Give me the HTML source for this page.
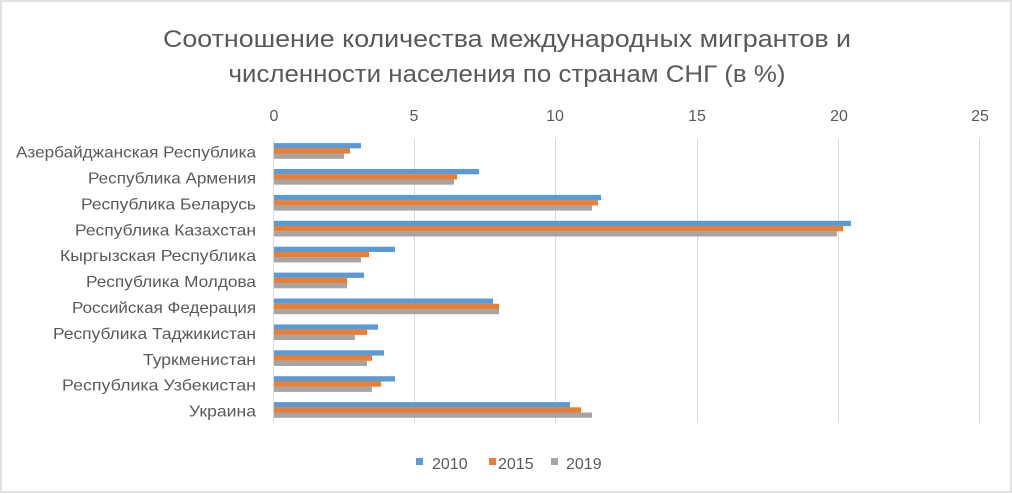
<!DOCTYPE html>
<html><head><meta charset="utf-8"><style>
body{margin:0;background:#fff}
svg{display:block}
text{font-family:"Liberation Sans",sans-serif;fill:#595959}
</style></head><body>
<svg width="1012" height="494" viewBox="0 0 1012 494">
<rect x="1" y="1" width="1010" height="491" fill="#fff" stroke="#d9d9d9" stroke-width="1.5"/>
<text x="507" y="47" font-size="24" text-anchor="middle" textLength="688" lengthAdjust="spacingAndGlyphs">Соотношение количества международных мигрантов и</text>
<text x="507" y="82" font-size="24" text-anchor="middle" textLength="557" lengthAdjust="spacingAndGlyphs">численности населения по странам СНГ (в %)</text>
<g font-size="16" text-anchor="middle">
<text x="274" y="121">0</text><text x="414" y="121">5</text><text x="555" y="121">10</text>
<text x="697" y="121">15</text><text x="839" y="121">20</text><text x="980" y="121">25</text>
</g>
<g stroke="#d9d9d9" stroke-width="1">
<line x1="414.5" y1="139" x2="414.5" y2="423"/><line x1="555.5" y1="139" x2="555.5" y2="423"/>
<line x1="697.5" y1="139" x2="697.5" y2="423"/><line x1="838.5" y1="139" x2="838.5" y2="423"/>
<line x1="979.5" y1="139" x2="979.5" y2="423"/><line x1="273.5" y1="139" x2="273.5" y2="423"/>
</g>
<g fill="#5b9bd5">
<rect x="274" y="143.1" width="87" height="5.3"/>
<rect x="274" y="169" width="205" height="5.3"/>
<rect x="274" y="194.9" width="327" height="5.3"/>
<rect x="274" y="220.8" width="577" height="5.3"/>
<rect x="274" y="246.7" width="121" height="5.3"/>
<rect x="274" y="272.6" width="90" height="5.3"/>
<rect x="274" y="298.5" width="219" height="5.3"/>
<rect x="274" y="324.4" width="104" height="5.3"/>
<rect x="274" y="350.3" width="110" height="5.3"/>
<rect x="274" y="376.2" width="121" height="5.3"/>
<rect x="274" y="402.1" width="296" height="5.3"/>
</g>
<g fill="#ed7d31">
<rect x="274" y="148.3" width="76" height="5.3"/>
<rect x="274" y="174.2" width="183" height="5.3"/>
<rect x="274" y="200.1" width="324" height="5.3"/>
<rect x="274" y="226" width="569" height="5.3"/>
<rect x="274" y="251.9" width="95" height="5.3"/>
<rect x="274" y="277.8" width="73" height="5.3"/>
<rect x="274" y="303.7" width="225" height="5.3"/>
<rect x="274" y="329.6" width="93" height="5.3"/>
<rect x="274" y="355.5" width="98" height="5.3"/>
<rect x="274" y="381.4" width="107" height="5.3"/>
<rect x="274" y="407.3" width="307" height="5.3"/>
</g>
<g fill="#a5a5a5">
<rect x="274" y="153.5" width="70" height="5.3"/>
<rect x="274" y="179.4" width="180" height="5.3"/>
<rect x="274" y="205.3" width="318" height="5.3"/>
<rect x="274" y="231.2" width="563" height="5.3"/>
<rect x="274" y="257.1" width="87" height="5.3"/>
<rect x="274" y="283" width="73" height="5.3"/>
<rect x="274" y="308.9" width="225" height="5.3"/>
<rect x="274" y="334.8" width="81" height="5.3"/>
<rect x="274" y="360.7" width="93" height="5.3"/>
<rect x="274" y="386.6" width="98" height="5.3"/>
<rect x="274" y="412.5" width="318" height="5.3"/>
</g>
<g font-size="16" text-anchor="end">
<text x="256" y="157.6" textLength="240" lengthAdjust="spacingAndGlyphs">Азербайджанская Республика</text>
<text x="256" y="183.5" textLength="168" lengthAdjust="spacingAndGlyphs">Республика Армения</text>
<text x="256" y="209.4" textLength="175" lengthAdjust="spacingAndGlyphs">Республика Беларусь</text>
<text x="256" y="235.3" textLength="181" lengthAdjust="spacingAndGlyphs">Республика Казахстан</text>
<text x="256" y="261.2" textLength="196" lengthAdjust="spacingAndGlyphs">Кыргызская Республика</text>
<text x="256" y="287.1" textLength="170" lengthAdjust="spacingAndGlyphs">Республика Молдова</text>
<text x="256" y="313" textLength="184" lengthAdjust="spacingAndGlyphs">Российская Федерация</text>
<text x="256" y="338.9" textLength="203" lengthAdjust="spacingAndGlyphs">Республика Таджикистан</text>
<text x="256" y="364.8" textLength="113" lengthAdjust="spacingAndGlyphs">Туркменистан</text>
<text x="256" y="390.7" textLength="194" lengthAdjust="spacingAndGlyphs">Республика Узбекистан</text>
<text x="256" y="416.6" textLength="67" lengthAdjust="spacingAndGlyphs">Украина</text>
</g>
<rect x="416" y="458" width="7" height="7" fill="#5b9bd5"/><text x="432" y="469" font-size="16">2010</text>
<rect x="489" y="458" width="7" height="7" fill="#ed7d31"/><text x="498" y="469" font-size="16">2015</text>
<rect x="551" y="458" width="7" height="7" fill="#a5a5a5"/><text x="566" y="469" font-size="16">2019</text>
</svg>
</body></html>
